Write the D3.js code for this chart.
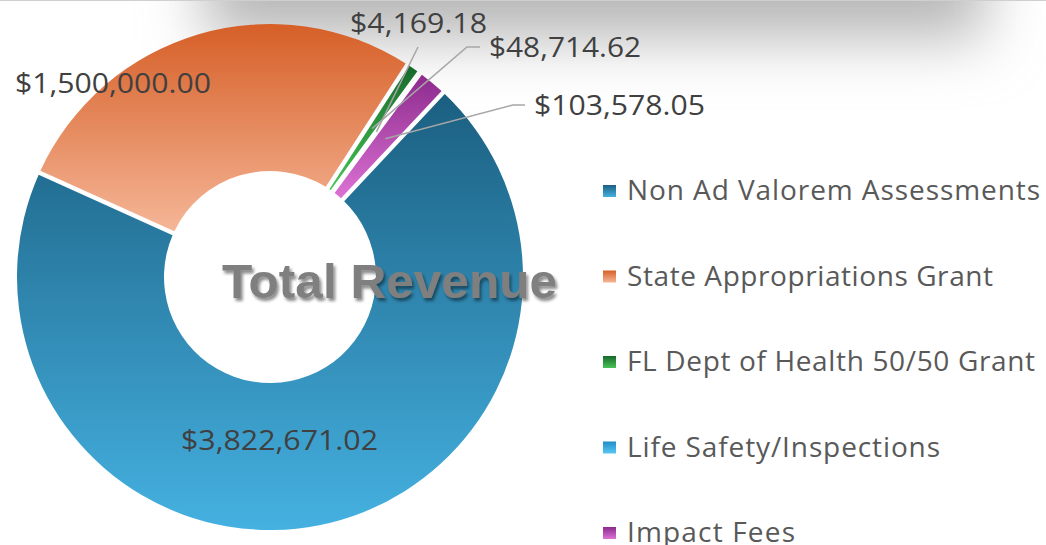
<!DOCTYPE html>
<html><head><meta charset="utf-8">
<script src="https://cdn.jsdelivr.net/npm/d3@7"></script>
<style>body{margin:0;background:#fff}svg{display:block}</style>
</head><body>
<svg id="c" width="1046" height="545"></svg>
<script>
const categories = ["Non Ad Valorem Assessments","State Appropriations Grant","FL Dept of Health 50/50 Grant","Life Safety/Inspections","Impact Fees"];
const values = [3822671.02, 1500000.00, 48714.62, 4169.18, 103578.05];
const labelTexts = ["$3,822,671.02","$1,500,000.00","$48,714.62","$4,169.18","$103,578.05"];
const colorTop = ["#1b5f81","#d65f27","#17692a","#1f8cc7","#8c2a8d"];
const colorBottom = ["#45b1e1","#f5b697","#48c456","#5bc8f1","#dc72d4"];

const svg = d3.select("#c");
const defs = svg.append("defs");
const W = 1046, H = 545;
const cx = 270, cy = 277, R = 253, r0 = 106;

// filters
const blur = defs.append("filter").attr("id","topShadow").attr("filterUnits","userSpaceOnUse")
  .attr("x",-200).attr("y",-400).attr("width",1500).attr("height",700);
blur.append("feGaussianBlur").attr("stdDeviation", 30);
const ds = defs.append("filter").attr("id","txtShadow").attr("x","-10%").attr("y","-30%").attr("width","130%").attr("height","170%");
ds.append("feDropShadow").attr("dx",2).attr("dy",3).attr("stdDeviation",1.8).attr("flood-color","#000").attr("flood-opacity",0.45);

categories.forEach((c,i)=>{
  const g = defs.append("linearGradient").attr("id","g"+i).attr("x1",0).attr("y1",0).attr("x2",0).attr("y2",1);
  g.append("stop").attr("offset","0%").attr("stop-color",colorTop[i]);
  g.append("stop").attr("offset","100%").attr("stop-color",colorBottom[i]);
});

// top shadow band
svg.append("rect").attr("x",205).attr("y",-160).attr("width",780).attr("height",198)
  .attr("fill","#b6b6b6").attr("filter","url(#topShadow)");
svg.append("line").attr("x1",0).attr("x2",W).attr("y1",0.5).attr("y2",0.5)
  .attr("stroke","#cfcfcf").attr("stroke-width",1);

const data = categories.map((c,i)=>({name:c, value:values[i], idx:i}));
const startA = 43.2*Math.PI/180;
const pie = d3.pie().value(d=>d.value).sort(null)
  .startAngle(startA).endAngle(startA+2*Math.PI).padAngle(0);
const arcs = pie(data);
const padW = 4.4;
const arc = d3.arc().innerRadius(r0).outerRadius(R).padRadius(R).padAngle(padW/R);

const g = svg.append("g").attr("transform",`translate(${cx},${cy})`);
g.selectAll("path.slice").data(arcs).join("path")
  .attr("class","slice")
  .attr("d", arc)
  .attr("fill", d=>`url(#g${d.data.idx})`);

// centre title
svg.append("text").attr("x",222).attr("y",298)
  .attr("font-family","'Liberation Sans', Arial, sans-serif")
  .attr("font-weight","bold").attr("font-size",49).attr("fill","#7f7f7f")
  .attr("filter","url(#txtShadow)")
  .attr("textLength",335).attr("lengthAdjust","spacingAndGlyphs")
  .text("Total Revenue");

// data labels
const labelFont = "'Open Sans', 'Liberation Sans', sans-serif";
const leaderArc = d3.arc().innerRadius(180).outerRadius(180);
const labelLayout = [
  {x:181, y:450, w:197},
  {x:15,  y:93,  w:196},
  {x:489, y:57,  w:152, knee:[480,47], mid:[467,47]},
  {x:350, y:33,  w:137, knee:[418,47]},
  {x:534, y:115, w:171, knee:[525,105], mid:[513,105]}
];
arcs.forEach((a,i)=>{
  const L = labelLayout[i];
  if (L.knee){
    const c = leaderArc.centroid(a);
    const pts = [L.knee];
    if (L.mid) pts.push(L.mid);
    pts.push([cx+c[0], cy+c[1]]);
    svg.append("path").attr("d", d3.line()(pts))
      .attr("fill","none").attr("stroke","#a6a6a6").attr("stroke-width",1.5);
  }
});
arcs.forEach((a,i)=>{
  const L = labelLayout[i];
  svg.append("text").attr("x",L.x).attr("y",L.y)
    .attr("font-family",labelFont).attr("font-size",27).attr("fill","#404040")
    .attr("textLength",L.w).attr("lengthAdjust","spacingAndGlyphs")
    .text(labelTexts[i]);
});

// legend
const legY = d3.scalePoint().domain(categories).range([200,542]);
const legW = [413, 366, 408, 313, 168];
const leg = svg.append("g");
categories.forEach((c,i)=>{
  const y = legY(c);
  leg.append("rect").attr("x",603).attr("y",y-15).attr("width",13).attr("height",12)
    .attr("fill",`url(#g${i})`);
  leg.append("text").attr("x",627).attr("y",y)
    .attr("font-family",labelFont).attr("font-size",28).attr("fill","#595959")
    .attr("textLength",legW[i]).attr("lengthAdjust","spacing")
    .text(c);
});
</script>
</body></html>
